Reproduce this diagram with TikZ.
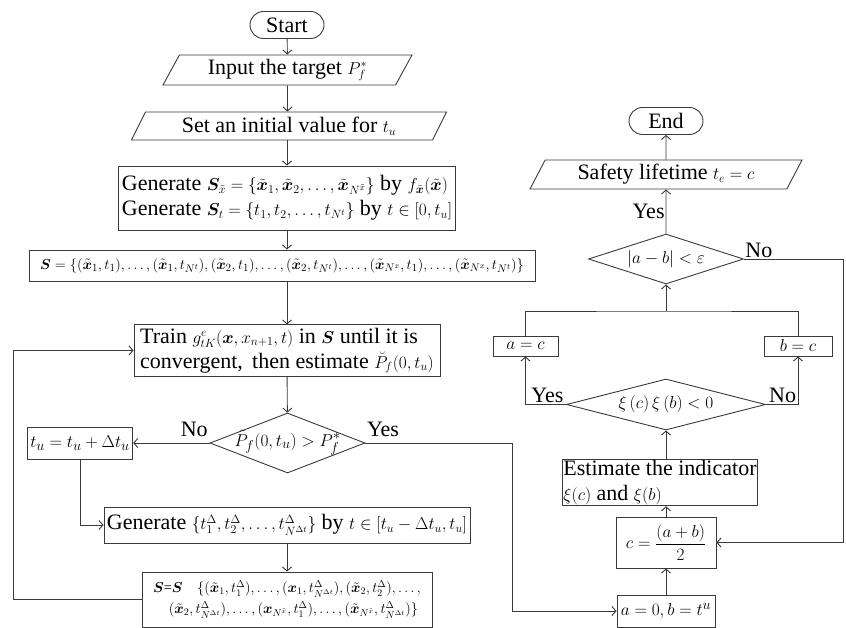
\documentclass[tikz,border=0pt]{standalone}
\usepackage{amsmath}
\usepackage{bm}
\usepackage[no-math]{fontspec}
\setmainfont{Liberation Serif}
\usetikzlibrary{arrows.meta, positioning, shapes.geometric, shapes.misc}
\definecolor{ink}{HTML}{3A3A3A}
\newcommand{\mth}[1]{{\fontsize{18}{21}\selectfont$#1$}}
\tikzset{
  font=\fontsize{22}{25}\selectfont,
  >={Straight Barb[length=4pt, width=9pt]},
  %
  box/.style={draw=ink, line width=0.9pt, inner sep=3pt, align=center, text=black},
  proc/.style={box, rectangle},
  procl/.style={box, rectangle, align=left},
  term/.style={box, rounded rectangle, minimum width=80pt, minimum height=27pt},
  io/.style={box, trapezium, trapezium left angle=60, trapezium right angle=120,
             trapezium stretches body},
  decision/.style={box, diamond, inner sep=0pt},
  frm/.style={font=\fontsize{19}{22}\selectfont},
  frms/.style={font=\fontsize{14.5}{21}\selectfont},
  %
  flow/.style={draw=ink, line width=0.9pt, ->},
  link/.style={draw=ink, line width=0.9pt},
  lbl/.style={inner sep=1pt, text=black},
}

\begin{document}
\begin{tikzpicture}[x=1pt, y=-1pt]
  \useasboundingbox (0,0) rectangle (846,628);

  % left column
  \node[term] (start) at (287,25) {Start};
  \node[io, minimum width=249pt, minimum height=30pt] (input) at (287.5,70)
    {Input the target \mth{P_f^*}};
  \node[io, minimum width=315pt, minimum height=28pt] (setu) at (289,126)
    {Set an initial value for \mth{t_u}};
  \node[procl, minimum width=337pt, minimum height=64pt, inner sep=2pt] (gen) at (287,198)
    {Generate \mth{\bm S_{\tilde x}=\{\tilde{\bm x}_1,\tilde{\bm x}_2,\ldots,\tilde{\bm x}_{N^{\tilde x}}\}} by \mth{f_{\tilde{\bm x}}(\tilde{\bm x})}\\
     Generate \mth{\bm S_t=\{t_1,t_2,\ldots,t_{N^t}\}} by \mth{t\in[0,t_u]}};
  \node[proc, frms, font=\fontsize{15.3}{21}\selectfont, minimum width=506pt, minimum height=31pt, inner sep=1pt] (sset) at (282,265.5)
    {$\bm S=\{(\tilde{\bm x}_1,t_1),\ldots,(\tilde{\bm x}_1,t_{N^t}),(\tilde{\bm x}_2,t_1),\ldots,(\tilde{\bm x}_2,t_{N^t}),\ldots,(\tilde{\bm x}_{N^x},t_1),\ldots,(\tilde{\bm x}_{N^x},t_{N^t})\}$};
  \node[procl, minimum width=306pt, minimum height=49pt] (train) at (287,350.5)
    {Train \mth{g^e_{tK}(\bm x,x_{n+1},t)} in \mth{\bm S} until it is\\
     convergent,\, then estimate \mth{\breve P_f(0,t_u)}};
  \node[decision, minimum width=155pt, minimum height=60pt,
        label={[frm]center:$\tilde P_f(0,t_u)>P_f^*$}] (dec1) at (287.5,443) {};
  \node[proc, frm, minimum width=104pt, minimum height=32pt] (tu) at (80,443)
    {$t_u=t_u+\Delta t_u$};
  \node[proc, minimum width=364pt, minimum height=36pt] (gen2) at (287,525)
    {Generate \mth{\{t_1^\Delta,t_2^\Delta,\ldots,t_{N^{\Delta t}}^\Delta\}} by \mth{t\in[t_u-\Delta t_u,t_u]}};
  \node[procl, frms, minimum width=290pt, minimum height=55pt, inner sep=2pt] (merge) at (287,599.5)
    {$\bm S$=$\bm S$\quad $\{(\tilde{\bm x}_1,t_1^\Delta),\ldots,(\bm x_1,t^\Delta_{N^{\Delta t}}),(\tilde{\bm x}_2,t_2^\Delta),\ldots,$\\
     \hspace*{1.1em}$(\tilde{\bm x}_2,t^\Delta_{N^{\Delta t}}),\ldots,(\bm x_{N^{\tilde x}},t_1^\Delta),\ldots,(\tilde{\bm x}_{N^{\tilde x}},t^\Delta_{N^{\Delta t}})\}$};

  % right column
  \node[proc, frm, minimum width=98pt, minimum height=32pt] (ab) at (666,611)
    {$a=0,b=t^u$};
  \node[proc, frm, minimum width=100pt, minimum height=51pt, inner sep=1pt] (mid) at (666,542.5)
    {$c=\dfrac{\left(a+b\right)}{2}$};
  \node[procl, minimum width=195pt, minimum height=41pt, inner sep=1pt] (est) at (660,482.5)
    {Estimate the indicator\\ \mth{\xi(c)} and \mth{\xi(b)}};
  \node[decision, minimum width=199pt, minimum height=51pt,
        label={[frm]center:$\xi\left(c\right)\xi\left(b\right)<0$}] (dec2) at (666,404.5) {};
  \node[proc, frm, minimum width=65pt, minimum height=20pt, inner sep=0pt] (ac) at (525.5,346) {$a=c$};
  \node[proc, frm, minimum width=68pt, minimum height=20pt, inner sep=0pt] (bc) at (798,346) {$b=c$};
  \node[decision, minimum width=155pt, minimum height=50pt,
        label={[frm]center:$\left|a-b\right|<\varepsilon$}] (dec3) at (666,259) {};
  \node[io, minimum width=272pt, minimum height=29pt] (safe) at (666,174.5)
    {Safety lifetime \mth{t_e=c}};
  \node[term] (end) at (666,121) {End};

  \coordinate (fb) at (13,599.5);
  \coordinate (yturn) at (512,443);
  \coordinate (join) at (666,311);
  \coordinate (nturn) at (843,259);

  \draw[flow] (start) -- (input);
  \draw[flow] (input) -- (input |- setu.north);
  \draw[flow] (gen.north |- setu.south) -- (gen.north);
  \draw[flow] (gen.south) -- (gen.south |- sset.north);
  \draw[flow] (train.north |- sset.south) -- (train.north);
  \draw[flow] (train) -- (dec1);
  \draw[flow] (dec1.west) -- node[lbl, above=5pt, pos=0.2] {No} (tu.east);
  \draw[flow] (tu.south) |- (gen2.west);
  \draw[flow] (gen2) -- (merge);
  \draw[flow] (merge.west) -- (fb) |- (train.west);
  \draw[flow] (dec1.east) -- node[lbl, above=5pt, pos=0.12] {Yes} (yturn) |- (ab.west);

  \draw[flow] (ab) -- (mid);
  \draw[flow] (mid.north) -- (mid.north |- est.south);
  \draw[flow] (dec2.south |- est.north) -- (dec2.south);
  \draw[flow] (dec2.west) -| node[lbl, above, pos=0.23] {Yes} (ac.south);
  \draw[flow] (dec2.east) -| node[lbl, above, pos=0.26] {No} (bc.south);
  \draw[link] (ac.north) |- (join) -| (bc.north);
  \draw[flow] (join) -- (dec3.south);
  \draw[flow] (dec3.east) -- node[lbl, above, pos=0.15] {No} (nturn) |- (mid.east);
  \draw[flow] (dec3.north) -- node[lbl, left] {Yes} (safe.south);
  \draw[flow] (safe) -- (end);
\end{tikzpicture}
\end{document}
